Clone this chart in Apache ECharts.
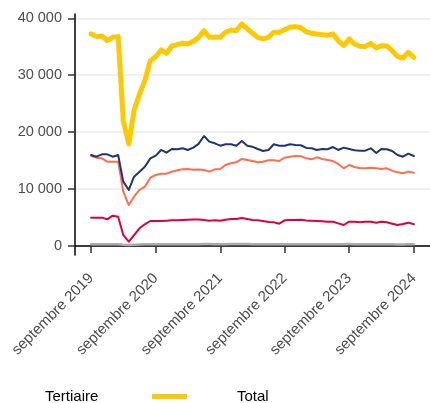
<!DOCTYPE html>
<html><head><meta charset="utf-8">
<script src="https://cdn.jsdelivr.net/npm/echarts@6/dist/echarts.min.js"></script>
<style>html,body{margin:0;padding:0;background:#fff}#c{width:430px;height:403px}</style>
</head><body><div id="c"></div>
<script>
const months = ['2019-09','2019-10','2019-11','2019-12','2020-01','2020-02','2020-03','2020-04','2020-05','2020-06','2020-07','2020-08',
'2020-09','2020-10','2020-11','2020-12','2021-01','2021-02','2021-03','2021-04','2021-05','2021-06','2021-07','2021-08',
'2021-09','2021-10','2021-11','2021-12','2022-01','2022-02','2022-03','2022-04','2022-05','2022-06','2022-07','2022-08',
'2022-09','2022-10','2022-11','2022-12','2023-01','2023-02','2023-03','2023-04','2023-05','2023-06','2023-07','2023-08',
'2023-09','2023-10','2023-11','2023-12','2024-01','2024-02','2024-03','2024-04','2024-05','2024-06','2024-07','2024-08','2024-09'];
const total = [37250,36780,36900,36070,36660,36780,22000,17920,23780,26700,29050,32560,33260,34440,33850,35140,35370,35610,35490,35950,36600,37830,36660,36660,36660,37540,37950,37830,39000,38130,37420,36660,36370,36660,37540,37540,38010,38420,38540,38350,37620,37370,37250,37130,37010,37250,36070,35190,36370,35490,35080,35020,35610,34790,35190,35140,34310,33260,33030,34030,33150];
const industrie = [15990,15690,16110,16110,15690,15990,11300,9840,12180,13060,13930,15400,15870,16870,16400,17040,16990,17160,16870,17280,17950,19330,18330,18040,17620,17870,17870,17620,18450,17620,17450,17040,16690,16870,17870,17620,17620,17870,17750,17700,17220,17160,16870,17040,17000,17390,16870,17280,17040,16810,16750,16750,17160,16340,17040,17000,16690,15990,15690,16220,15810];
const tertiaire = [15810,15520,15400,14810,14810,14810,9540,7200,8660,9840,10420,12000,12470,12700,12700,13060,13300,13470,13530,13400,13450,13350,13060,13470,13530,14230,14530,14700,15290,15110,14930,14700,14810,15060,15060,14930,15520,15690,15810,15780,15400,15230,15580,15290,15110,14930,14410,13650,14230,13880,13650,13650,13760,13650,13530,13650,13240,12940,12770,13060,12880];
const construction = [4980,4980,4980,4690,5330,5150,1930,760,1930,3110,3810,4390,4390,4390,4450,4510,4510,4570,4630,4660,4650,4570,4450,4510,4450,4630,4740,4740,4920,4740,4570,4510,4390,4220,4160,3920,4510,4570,4570,4600,4500,4450,4390,4330,4270,4270,3980,3690,4270,4270,4160,4270,4270,4100,4270,4160,3920,3690,3860,4100,3810];
const agriculture = [300,300,290,290,300,290,200,180,220,260,290,300,300,300,300,310,310,310,320,320,320,330,330,320,320,320,330,330,340,330,320,310,300,300,300,290,300,310,310,300,300,300,300,290,290,300,310,320,330,320,310,300,300,300,290,290,290,280,280,290,290];
const xTickMonths = ['2019-09','2020-09','2021-09','2022-09','2023-09','2024-09'];
const xTickLabels = ['septembre 2019','septembre 2020','septembre 2021','septembre 2022','septembre 2023','septembre 2024'];

const FONT = 'Liberation Sans, Arial, sans-serif';
function ts(m){const p=m.split('-').map(Number);return Date.UTC(p[0],p[1]-1,1);}
const xs = months.map(ts);
const span = xs[xs.length-1]-xs[0];
const xMin = xs[0]-0.05*span, xMax = xs[xs.length-1]+0.05*span;
const tickTs = xTickMonths.map(ts);
const fmtY = v => String(v).replace(/\B(?=(\d{3})+(?!\d))/g,' ');
const pairs = arr => xs.map((x,i)=>[x,arr[i]]);

const chart = echarts.init(document.getElementById('c'), null, {renderer:'canvas'});
const mk = (name, arr, color, width) => ({
  name, type:'line', data:pairs(arr), xAxisIndex:0, yAxisIndex:0,
  showSymbol:false, symbol:'none', animation:false,
  lineStyle:{color, width, join:'round', cap:'round'}, itemStyle:{color}
});
chart.setOption({
  animation:false,
  grid:[
    {left:75, right:-6.5, top:18.3, bottom:157},
    {left:75, right:-6.5, top:14, bottom:148}
  ],
  xAxis:[
    {type:'value', gridIndex:0, min:xMin, max:xMax, offset:9,
     axisLine:{show:true, lineStyle:{color:'#000', width:1.5}},
     axisTick:{show:true, length:7, lineStyle:{color:'#333', width:1.5}, customValues:tickTs},
     axisLabel:{show:true, rotate:45, margin:21, fontSize:15, color:'#4d4d4d', fontFamily:FONT,
       customValues:tickTs,
       formatter:v=>{const i=tickTs.indexOf(v);return i>=0?xTickLabels[i]:'';}},
     splitLine:{show:false}},
    {type:'value', gridIndex:1, min:xMin, max:xMax, show:false}
  ],
  yAxis:[
    {type:'value', gridIndex:0, min:0, max:40000, interval:10000,
     axisLine:{show:false},
     axisTick:{show:true, length:7, lineStyle:{color:'#333', width:1.5}},
     axisLabel:{margin:13, fontSize:14.5, color:'#4d4d4d', fontFamily:FONT, formatter:fmtY},
     splitLine:{show:true, lineStyle:{color:'#ebebeb', width:1.5}}},
    {type:'value', gridIndex:1, min:0, max:1,
     axisLine:{show:true, lineStyle:{color:'#000', width:1.5}},
     axisTick:{show:false}, axisLabel:{show:false}, splitLine:{show:false}}
  ],
  legend:[
    {data:[{name:'Tertiaire', icon:'rect', itemStyle:{color:'rgba(0,0,0,0)', opacity:0}}],
     left:34, top:384, itemWidth:1, itemHeight:5, selectedMode:false,
     textStyle:{fontSize:15, color:'#000', fontFamily:FONT}},
    {data:[{name:'Total', icon:'rect'}],
     left:147, top:384, itemWidth:35, itemHeight:5, selectedMode:false,
     textStyle:{fontSize:15, color:'#000', fontFamily:FONT, padding:[0,0,0,45]}}
  ],
  series:[
    mk('Agriculture', agriculture, '#ababab', 2.5),
    mk('Construction', construction, '#e0003c', 2),
    mk('Tertiaire', tertiaire, '#ff6e50', 2),
    mk('Industrie', industrie, '#1f3570', 2),
    mk('Total', total, '#ffc800', 5)
  ]
});
</script></body></html>
